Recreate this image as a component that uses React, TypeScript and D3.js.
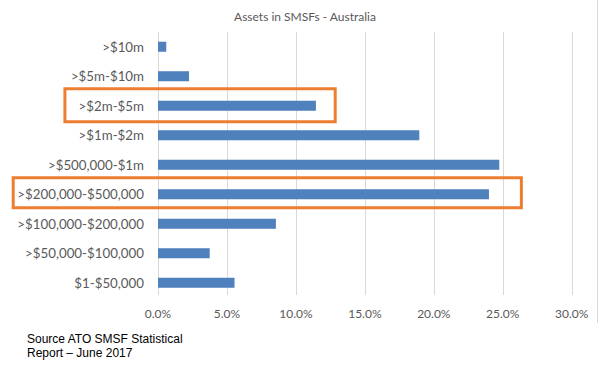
import * as d3 from 'd3';
import React from 'react';

const width = 613;
const height = 372;
const margin = { top: 32, right: 41, bottom: 75, left: 158 };
const blue = '#4f81bd';
const orange = '#ed7d31';
const grey = '#595959';

// categories top to bottom, values in %
const categories = [
  '>$10m',
  '>$5m-$10m',
  '>$2m-$5m',
  '>$1m-$2m',
  '>$500,000-$1m',
  '>$200,000-$500,000',
  '>$100,000-$200,000',
  '>$50,000-$100,000',
  '$1-$50,000'
];
const shares = [0.6, 2.25, 11.45, 18.95, 24.75, 24.0, 8.55, 3.75, 5.55];
const ticks = [0, 5, 10, 15, 20, 25, 30];

// orange call-out boxes, in % units of the x axis
const highlightCats = ['>$2m-$5m', '>$200,000-$500,000'];
const highlightFrom = [-6.75, -10.5];
const highlightTo = [12.85, 26.35];

const title = 'Assets in SMSFs - Australia';
const sourceLines = ['Source ATO SMSF Statistical', 'Report \u2013 June 2017'];

const xScale = d3.scaleLinear().domain([0, 30]).range([margin.left, width - margin.right - 0.3]);
const yScale = d3
  .scaleBand()
  .domain(categories)
  .range([margin.top, 297.5])
  .paddingInner(0.66)
  .paddingOuter(0.33);
const fmt = d3.format('.1f');

export default function App() {
  const bw = yScale.bandwidth();
  const gridBottom = 295;

  return (
    <svg
      width={width}
      height={height}
      style={{ position: 'absolute', left: 0, top: 0, background: '#fff' }}
      fontFamily="Lato, 'Open Sans', sans-serif"
    >
      <rect width={width} height={height} fill="#fff" />
      {/* chart border on the right */}
      <line x1={597.5} x2={597.5} y1={0} y2={323} stroke="#d9d9d9" />

      <text x={305} y={16} textAnchor="middle" dominantBaseline="central" fontSize={12} fill={grey}>
        {title}
      </text>

      {/* gridlines */}
      {ticks.map(t => (
        <line
          key={t}
          x1={Math.round(xScale(t)) + 0.5}
          x2={Math.round(xScale(t)) + 0.5}
          y1={margin.top}
          y2={gridBottom}
          stroke="#d9d9d9"
        />
      ))}

      {/* bars */}
      {categories.map((c, i) => (
        <rect
          key={c}
          x={xScale(0)}
          y={yScale(c)}
          width={xScale(shares[i]) - xScale(0)}
          height={bw}
          fill={blue}
        />
      ))}

      {/* category labels */}
      {categories.map(c => (
        <text
          key={c}
          x={144}
          y={yScale(c) + bw / 2}
          textAnchor="end"
          dominantBaseline="central"
          fontSize={13.3}
          fill={grey}
        >
          {c}
        </text>
      ))}

      {/* x tick labels */}
      {ticks.map(t => (
        <text
          key={t}
          x={xScale(t)}
          y={313}
          textAnchor="middle"
          dominantBaseline="central"
          fontSize={12}
          fill={grey}
        >
          {fmt(t) + '%'}
        </text>
      ))}

      {/* highlight boxes */}
      {highlightCats.map((c, i) => {
        const cy = yScale(c) + bw / 2;
        const h = i === 0 ? 33 : 30;
        return (
          <rect
            key={c}
            x={xScale(highlightFrom[i])}
            y={cy - h / 2 - (i === 0 ? 0.5 : 1.5)}
            width={xScale(highlightTo[i]) - xScale(highlightFrom[i])}
            height={h}
            fill="none"
            stroke={orange}
            strokeWidth={3}
          />
        );
      })}

      {/* source note */}
      {sourceLines.map((s, i) => (
        <text
          key={s}
          x={27}
          y={343 + i * 14}
          fontSize={12}
          fontFamily="'Liberation Sans', Arial, sans-serif"
          fill="#000"
        >
          {s}
        </text>
      ))}
    </svg>
  );
}
